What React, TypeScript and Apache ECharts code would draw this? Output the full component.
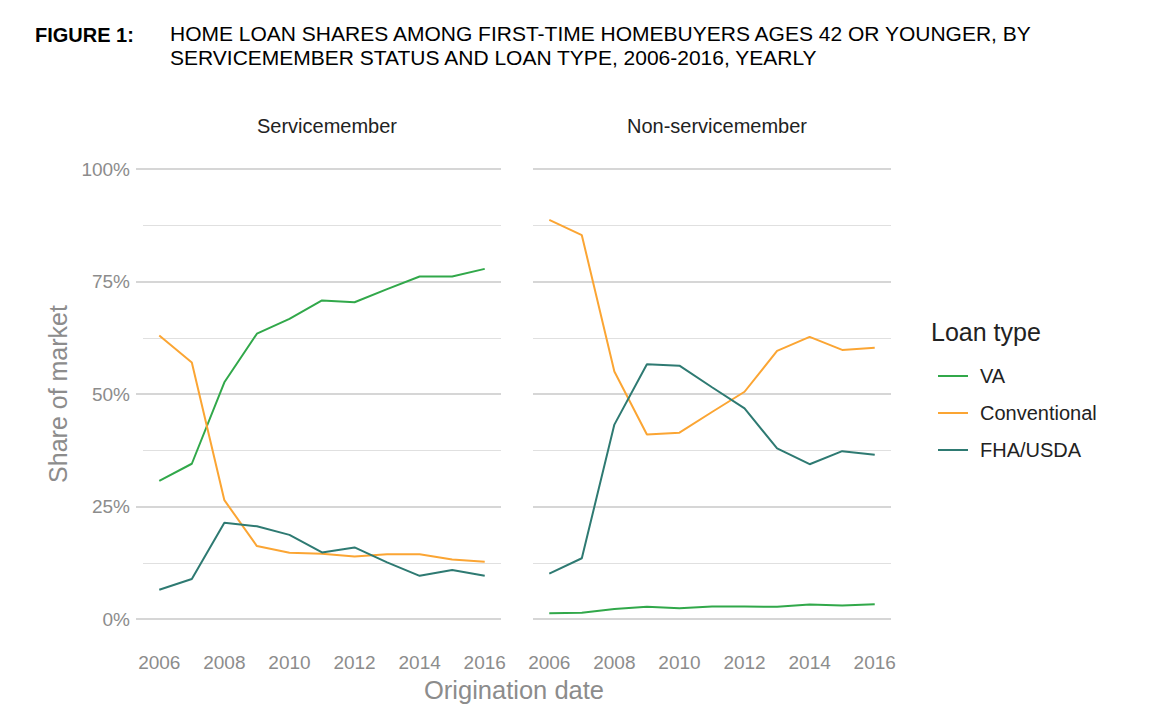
import React, { useEffect, useRef } from "react";
import * as echarts from "echarts";

const years = ["2006", "2007", "2008", "2009", "2010", "2011", "2012", "2013", "2014", "2015", "2016"];
const yTicks = [0, 25, 50, 75, 100];

const smVA = [30.7, 34.5, 52.6, 63.4, 66.7, 70.8, 70.4, 73.3, 76.1, 76.1, 77.8];
const smConv = [63.0, 57.0, 26.4, 16.2, 14.7, 14.5, 13.9, 14.4, 14.4, 13.2, 12.7];
const smFHA = [6.5, 8.9, 21.4, 20.6, 18.7, 14.8, 15.9, 12.6, 9.6, 10.9, 9.6];

const nsVA = [1.3, 1.4, 2.2, 2.7, 2.4, 2.8, 2.8, 2.7, 3.2, 3.0, 3.3];
const nsConv = [88.7, 85.3, 55.0, 41.0, 41.4, 46.0, 50.5, 59.6, 62.7, 59.8, 60.3];
const nsFHA = [10.1, 13.5, 43.2, 56.6, 56.3, 51.5, 46.8, 37.9, 34.4, 37.3, 36.5];

const panels = ["Servicemember", "Non-servicemember"];
const loanTypes = ["VA", "Conventional", "FHA/USDA"];
const colors = ["#31a84a", "#fba533", "#2e7a72"];

const FONT = "'Liberation Sans', Arial, Helvetica, sans-serif";
const GRAY = "#8c8c8c";

export default function App() {
  const ref = useRef<HTMLDivElement>(null);
  useEffect(() => {
    document.body.style.margin = "0";
    const chart = echarts.init(ref.current!, null, { renderer: "svg" });
    const grids = [
      { left: 143, top: 169, width: 358, height: 450 },
      { left: 533, top: 169, width: 358, height: 450 },
    ];
    const xAxes = grids.map((_, i) => ({
      type: "category",
      gridIndex: i,
      data: years,
      boundaryGap: true,
      axisLine: { show: false },
      axisTick: { show: false },
      axisLabel: { interval: 1, color: GRAY, fontSize: 19, fontFamily: FONT, margin: 34 },
      splitLine: { show: false },
    }));
    const yAxes = grids.map((_, i) => ({
      type: "value",
      gridIndex: i,
      min: yTicks[0],
      max: yTicks[yTicks.length - 1],
      interval: 25,
      axisLine: { show: false },
      axisTick: { show: i === 0, length: 7, lineStyle: { color: "#d6d6d6", width: 2 } },
      axisLabel: {
        show: i === 0,
        formatter: "{value}%",
        color: GRAY,
        fontSize: 19,
        fontFamily: FONT,
        margin: 13,
      },
      splitLine: { show: true, lineStyle: { color: "#d6d6d6", width: 2 } },
      minorTick: { show: false, splitNumber: 2 },
      minorSplitLine: { show: true, lineStyle: { color: "#e0e0e0", width: 1 } },
    }));
    const data = [
      [smVA, smConv, smFHA],
      [nsVA, nsConv, nsFHA],
    ];
    const series: any[] = [];
    data.forEach((panel, p) => {
      panel.forEach((vals, k) => {
        series.push({
          type: "line",
          name: loanTypes[k],
          xAxisIndex: p,
          yAxisIndex: p,
          data: vals,
          symbol: "none",
          lineStyle: { color: colors[k], width: 2 },
          itemStyle: { color: colors[k] },
        });
      });
    });
    chart.setOption({
      animation: false,
      backgroundColor: "#ffffff",
      textStyle: { fontFamily: FONT },
      title: [
        {
          text: "FIGURE 1:",
          left: 30,
          top: 18,
          textStyle: { fontSize: 20, fontWeight: "bold", color: "#000", fontFamily: FONT, lineHeight: 24 },
        },
        {
          text:
            "HOME LOAN SHARES AMONG FIRST-TIME HOMEBUYERS AGES 42 OR YOUNGER, BY\nSERVICEMEMBER STATUS AND LOAN TYPE, 2006-2016, YEARLY",
          left: 165,
          top: 16,
          textStyle: { fontSize: 21, fontWeight: "normal", color: "#000", fontFamily: FONT, lineHeight: 24 },
        },
        {
          text: panels[0],
          left: 322,
          textAlign: "center",
          top: 111,
          textStyle: { fontSize: 20, fontWeight: "normal", color: "#222", fontFamily: FONT },
        },
        {
          text: panels[1],
          left: 712,
          textAlign: "center",
          top: 111,
          textStyle: { fontSize: 20, fontWeight: "normal", color: "#222", fontFamily: FONT },
        },
        {
          text: "Loan type",
          left: 926,
          top: 314,
          textStyle: { fontSize: 25, fontWeight: "normal", color: "#222", fontFamily: FONT },
        },
      ],
      legend: {
        orient: "vertical",
        left: 933,
        top: 361,
        data: loanTypes.map((n) => ({ name: n, icon: "rect" })),
        itemWidth: 30,
        itemHeight: 2,
        itemGap: 17,
        textStyle: { fontSize: 20, color: "#222", fontFamily: FONT, lineHeight: 20, padding: [0, 0, 0, 7] },
      },
      graphic: [
        {
          type: "text",
          x: 514,
          y: 690,
          style: {
            text: "Origination date",
            fontSize: 25.5,
            fontFamily: FONT,
            fill: GRAY,
            textAlign: "center",
            textVerticalAlign: "middle",
          },
        },
        {
          type: "text",
          x: 58,
          y: 394,
          rotation: Math.PI / 2,
          style: {
            text: "Share of market",
            fontSize: 25,
            fontFamily: FONT,
            fill: GRAY,
            textAlign: "center",
            textVerticalAlign: "middle",
          },
        },
      ],
      grid: grids,
      xAxis: xAxes,
      yAxis: yAxes,
      series,
    });
    return () => chart.dispose();
  }, []);
  return <div ref={ref} style={{ width: 1159, height: 728 }} />;
}
